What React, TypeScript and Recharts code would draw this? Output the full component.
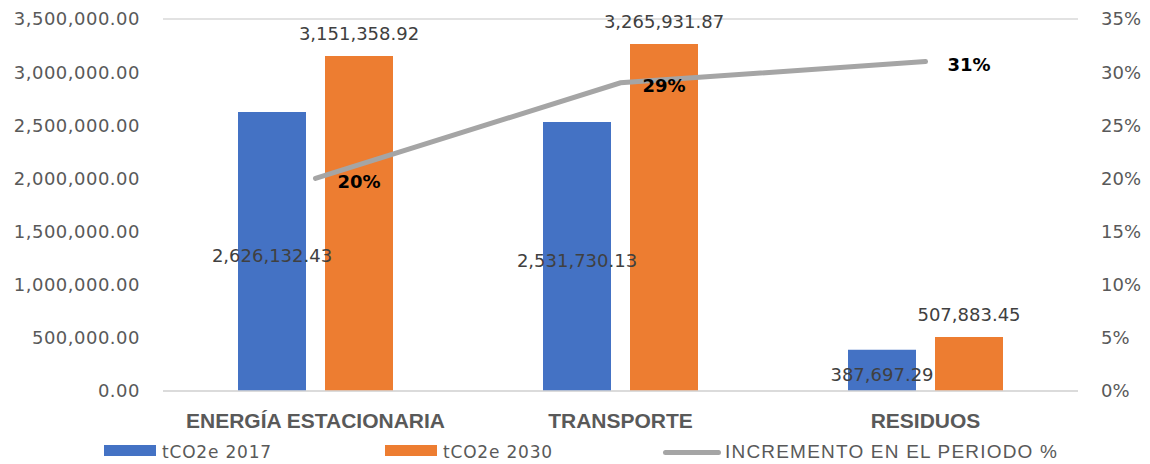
import React from 'react';
import {
  ComposedChart,
  Bar,
  Line,
  XAxis,
  YAxis,
  CartesianGrid,
  LabelList,
  Legend,
} from 'recharts';

const categories = ['ENERGÍA ESTACIONARIA', 'TRANSPORTE', 'RESIDUOS'];
const emissions2017 = [2626132.43, 2531730.13, 387697.29];
const emissions2030 = [3151358.92, 3265931.87, 507883.45];
const increment = [0.2, 0.29, 0.31];
const leftTicks = [0, 500000, 1000000, 1500000, 2000000, 2500000, 3000000, 3500000];
const rightTicks = [0, 0.05, 0.1, 0.15, 0.2, 0.25, 0.3, 0.35];
const seriesNames = ['tCO2e 2017', 'tCO2e 2030', 'INCREMENTO EN EL PERIODO %'];

const data = categories.map((name, i) => ({
  name,
  y2017: emissions2017[i],
  y2030: emissions2030[i],
  inc: increment[i],
}));

const fmtNum = (v: number) =>
  Number(v).toLocaleString('en-US', { minimumFractionDigits: 2, maximumFractionDigits: 2 });
const fmtPct = (v: number) => `${Math.round(Number(v) * 100)}%`;

const NUM_FONT = 'DejaVu Sans, sans-serif';

const LineLabel = (props: any) => {
  const { x, y, value } = props;
  return (
    <text
      x={x + 22}
      y={y + 3}
      dominantBaseline="central"
      fontFamily={NUM_FONT}
      fontWeight="bold"
      fontSize={18}
      fill="#000000"
    >
      {fmtPct(value)}
    </text>
  );
};

const CenterLabel = (props: any) => {
  const { x, y, width, height, value } = props;
  return (
    <text
      x={x + width / 2}
      y={y + height / 2 + 4}
      textAnchor="middle"
      dominantBaseline="central"
      fontFamily={NUM_FONT}
      fontSize={18}
      fill="#404040"
    >
      {fmtNum(value)}
    </text>
  );
};

const CustomLegend = () => (
  <div style={{ position: 'relative', width: 1150, height: 28 }}>
    <div style={{ position: 'absolute', left: 104, top: 9, width: 52, height: 11, background: '#4472C4' }} />
    <span
      style={{
        position: 'absolute', left: 162, top: 5, fontFamily: NUM_FONT, fontSize: 17,
        letterSpacing: 0.8, color: '#595959', lineHeight: '22px', whiteSpace: 'nowrap',
      }}
    >
      {seriesNames[0]}
    </span>
    <div style={{ position: 'absolute', left: 385, top: 9, width: 52, height: 11, background: '#ED7D31' }} />
    <span
      style={{
        position: 'absolute', left: 443, top: 5, fontFamily: NUM_FONT, fontSize: 17,
        letterSpacing: 0.8, color: '#595959', lineHeight: '22px', whiteSpace: 'nowrap',
      }}
    >
      {seriesNames[1]}
    </span>
    <div
      style={{
        position: 'absolute', left: 663, top: 14, width: 58, height: 5, borderRadius: 3, background: '#A5A5A5',
      }}
    />
    <span
      style={{
        position: 'absolute', left: 725, top: 5, fontFamily: 'Liberation Sans, Arial, sans-serif', fontSize: 19,
        letterSpacing: 1.2, color: '#595959', lineHeight: '22px', whiteSpace: 'nowrap',
      }}
    >
      {seriesNames[2]}
    </span>
  </div>
);

export default function App() {
  return (
    <div style={{ width: 1150, height: 464, background: '#ffffff' }}>
      <style>{'body{margin:0;}'}</style>
      <ComposedChart
        width={1150}
        height={464}
        data={data}
        margin={{ top: 19, right: 0, bottom: 33, left: 0 }}
        barGap={19}
      >
        <CartesianGrid vertical={false} stroke="#D9D9D9" strokeWidth={1.5} />
        <XAxis
          dataKey="name"
          height={40}
          axisLine={{ stroke: '#D9D9D9', strokeWidth: 1.5 }}
          tickLine={false}
          tickMargin={16}
          tick={{ fill: '#595959', fontSize: 21, fontWeight: 'bold', fontFamily: 'Liberation Sans, Arial, sans-serif' }}
          interval={0}
        />
        <YAxis
          yAxisId="left"
          orientation="left"
          width={163}
          domain={[0, 3500000]}
          ticks={leftTicks}
          tickFormatter={fmtNum}
          axisLine={false}
          tickLine={false}
          tickMargin={17}
          tick={{ fill: '#595959', fontSize: 18, fontFamily: NUM_FONT, letterSpacing: 0.5 }}
          interval={0}
        />
        <YAxis
          yAxisId="right"
          orientation="right"
          width={72}
          domain={[0, 0.35]}
          ticks={rightTicks}
          tickFormatter={fmtPct}
          axisLine={false}
          tickLine={false}
          tickMargin={17}
          tick={{ fill: '#595959', fontSize: 18, fontFamily: NUM_FONT }}
          interval={0}
        />
        <Bar yAxisId="left" dataKey="y2017" name={seriesNames[0]} fill="#4472C4" barSize={68} isAnimationActive={false}>
          <LabelList dataKey="y2017" content={CenterLabel} />
        </Bar>
        <Bar yAxisId="left" dataKey="y2030" name={seriesNames[1]} fill="#ED7D31" barSize={68} isAnimationActive={false}>
          <LabelList
            dataKey="y2030"
            position="top"
            offset={16}
            formatter={fmtNum as any}
            style={{ fill: '#404040', fontSize: 18, fontFamily: NUM_FONT }}
          />
        </Bar>
        <Line
          yAxisId="right"
          dataKey="inc"
          name={seriesNames[2]}
          stroke="#A5A5A5"
          strokeWidth={5}
          strokeLinecap="round"
          dot={false}
          activeDot={false}
          isAnimationActive={false}
        >
          <LabelList dataKey="inc" content={LineLabel} />
        </Line>
        <Legend
          layout="horizontal"
          verticalAlign="middle"
          align="center"
          content={CustomLegend}
          wrapperStyle={{ position: 'absolute', left: 0, top: 436, width: 1150, height: 28 }}
        />
      </ComposedChart>
    </div>
  );
}
